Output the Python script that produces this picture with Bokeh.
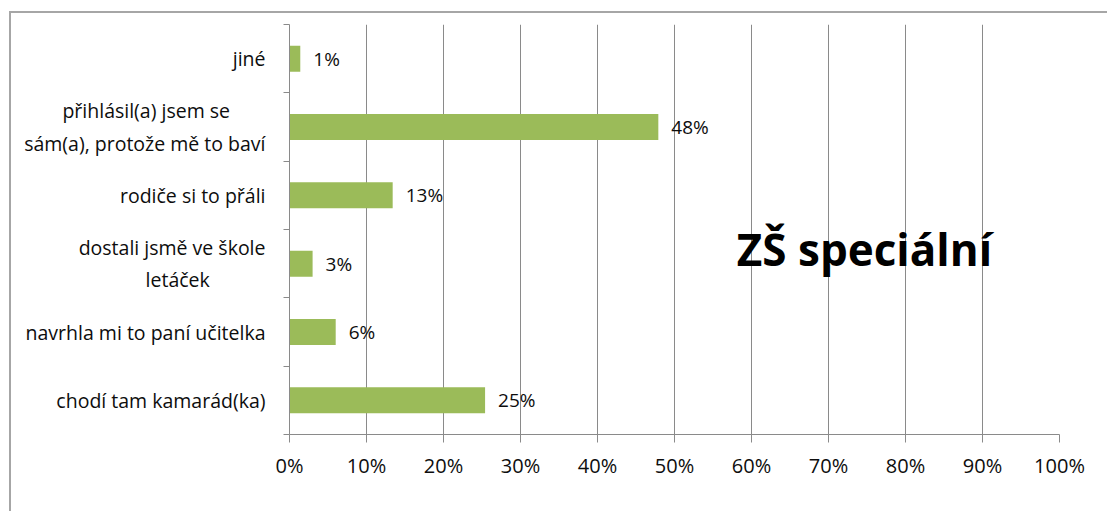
from bokeh.plotting import figure
from bokeh.models import Range1d, FixedTicker, PrintfTickFormatter, Label, ColumnDataSource
from bokeh.embed import file_html
from bokeh.resources import INLINE
from bokeh.core.properties import value

NB = "\u00a0"

# ---- data (bottom to top, as drawn on the category axis) ----
categories = [
    "chodí tam kamarád(ka)",
    "navrhla mi to paní učitelka",
    "dostali jsmě ve škole\nletáček" + NB * 11,
    "rodiče si to přáli",
    "přihlásil(a) jsem se" + NB * 7 + "\nsám(a), protože mě to baví",
    "jiné",
]
values = [25.4, 6.0, 3.0, 13.4, 47.9, 1.4]
value_labels = ["25%", "6%", "3%", "13%", "48%", "1%"]
x_ticks = [0, 10, 20, 30, 40, 50, 60, 70, 80, 90, 100]
chart_title = "ZŠ speciální"

FONT = "Open Sans"
TEXT_COLOR = "#0d0d0d"
GRID = "#8a8a8a"

ypos = [i + 0.5 for i in range(len(categories))]
src = ColumnDataSource(dict(y=ypos, v=values, lab=value_labels))

p = figure(
    width=1098, height=500,
    x_range=Range1d(0, 100), y_range=Range1d(0, len(categories)),
    output_backend="svg", toolbar_location=None,
    min_border_left=278, min_border_right=50, min_border_top=11, min_border_bottom=79,
    margin=(11, 0, 0, 9),
)
p.styles = {"border-left": "2px solid #a6a6a6", "border-top": "2px solid #a6a6a6"}
p.outline_line_color = None
p.background_fill_color = "white"
p.border_fill_color = "white"

p.hbar(y="y", right="v", left=0, height=0.38, source=src,
       fill_color="#9bbb59", line_color=None)

p.text(x="v", y="y", text="lab", source=src, x_offset=13,
       text_align="left", text_baseline="middle",
       text_font=value(FONT), text_font_size="19px", text_color=TEXT_COLOR)

# x axis
p.xaxis.ticker = FixedTicker(ticks=x_ticks)
p.xaxis.formatter = PrintfTickFormatter(format="%d%%")
p.xaxis.axis_line_color = GRID
p.xaxis.major_tick_line_color = GRID
p.xaxis.major_tick_out = 8
p.xaxis.major_tick_in = 0
p.xaxis.minor_tick_line_color = None
p.xaxis.major_label_text_font = FONT
p.xaxis.major_label_text_font_size = "20px"
p.xaxis.major_label_text_color = TEXT_COLOR
p.xaxis.major_label_standoff = 9

# y axis: labels at category centres, ticks at category boundaries
p.yaxis.ticker = FixedTicker(ticks=ypos, minor_ticks=list(range(len(categories) + 1)))
p.yaxis.major_label_overrides = {y: c for y, c in zip(ypos, categories)}
p.yaxis.axis_line_color = GRID
p.yaxis.major_tick_line_color = None
p.yaxis.major_tick_out = 0
p.yaxis.major_tick_in = 0
p.yaxis.minor_tick_line_color = GRID
p.yaxis.minor_tick_out = 6
p.yaxis.minor_tick_in = 0
p.yaxis.major_label_text_font = FONT
p.yaxis.major_label_text_font_size = "19.5px"
p.yaxis.major_label_text_color = TEXT_COLOR
p.yaxis.major_label_standoff = 18

p.xgrid.ticker = FixedTicker(ticks=x_ticks)
p.xgrid.grid_line_color = GRID
p.xgrid.grid_line_width = 1
p.ygrid.grid_line_color = None

p.add_layout(Label(x=58.1, y=2.72, text=chart_title, text_font=FONT,
                   text_font_size="44px", text_font_style="bold",
                   text_color="#000000", text_baseline="alphabetic"))

open("out.html", "w").write(file_html(p, INLINE))
